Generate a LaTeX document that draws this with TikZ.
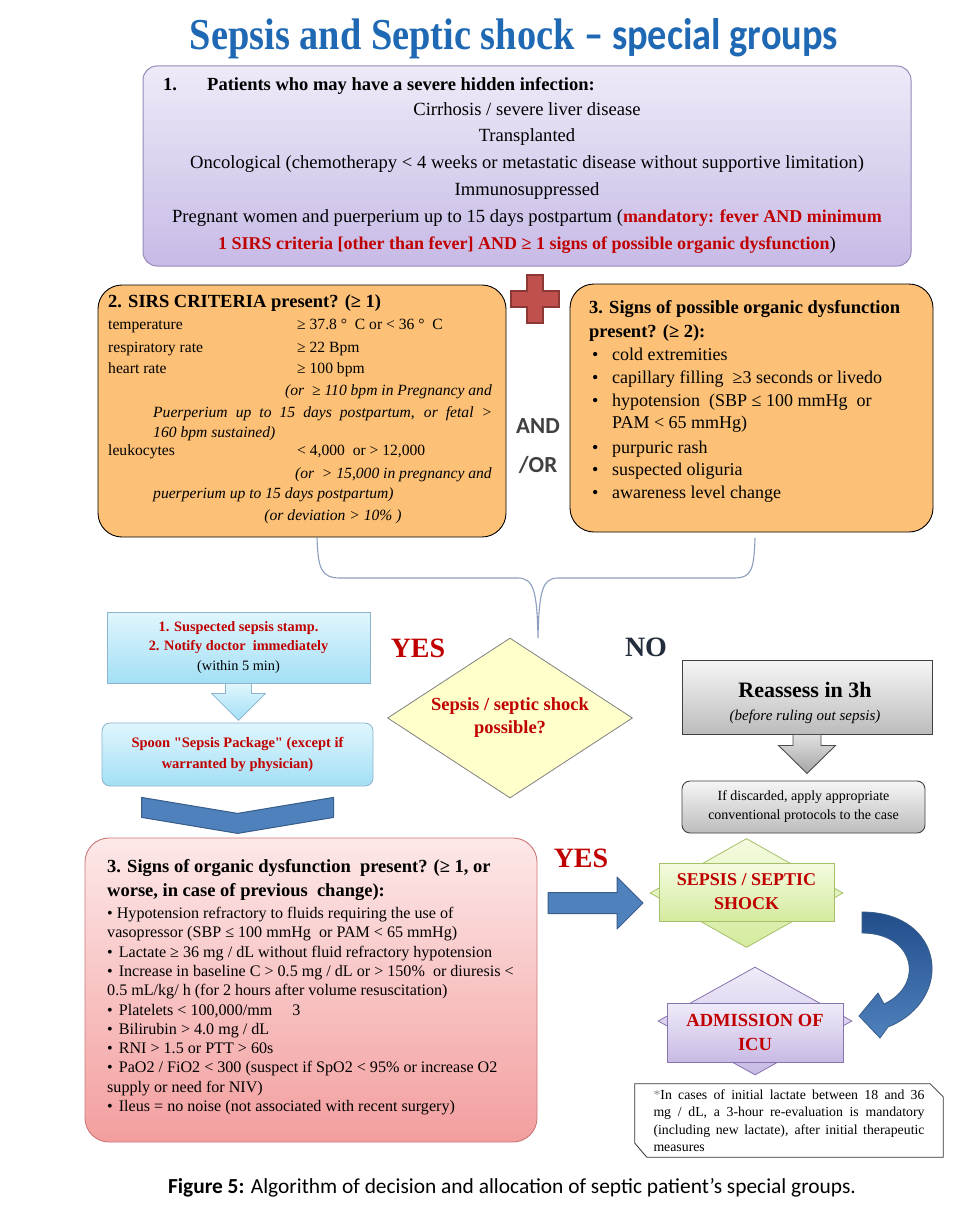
\documentclass[tikz,border=0pt]{standalone}
\usepackage{fontspec}
\setmainfont{Liberation Serif}
\newfontfamily\sansfont{Carlito}
\usepackage{graphicx}
\usepackage{xcolor}
\usetikzlibrary{calc,positioning,shapes.geometric}
\definecolor{titleblue}{RGB}{31,105,180}
\definecolor{lavtop}{RGB}{238,234,248}
\definecolor{lavbot}{RGB}{199,186,230}
\definecolor{lavline}{RGB}{150,138,185}
\definecolor{orangefill}{RGB}{252,192,118}
\definecolor{crossred}{RGB}{192,80,77}
\definecolor{crossline}{RGB}{140,56,54}
\definecolor{alertred}{RGB}{192,0,0}
\definecolor{bracegray}{RGB}{140,158,190}
\definecolor{cyantop}{RGB}{224,246,253}
\definecolor{cyanbot}{RGB}{163,223,245}
\definecolor{cyanline}{RGB}{140,180,205}
\definecolor{pinktop}{RGB}{253,232,232}
\definecolor{pinkbot}{RGB}{243,158,158}
\definecolor{pinkline}{RGB}{205,120,120}
\definecolor{arrowblue}{RGB}{79,129,189}
\definecolor{arrowline}{RGB}{56,93,138}
\definecolor{darkblue}{RGB}{34,78,138}
\definecolor{greentop}{RGB}{244,251,224}
\definecolor{greenbot}{RGB}{212,235,158}
\definecolor{greenline}{RGB}{165,192,105}
\definecolor{violettop}{RGB}{240,235,249}
\definecolor{violetbot}{RGB}{200,186,228}
\definecolor{violetline}{RGB}{135,115,175}
\definecolor{diamfill}{RGB}{255,255,204}
\definecolor{graytop}{RGB}{246,246,246}
\definecolor{graybot}{RGB}{188,188,188}
\definecolor{nogray}{RGB}{35,45,60}
\definecolor{andgray}{RGB}{64,64,64}
\newcommand{\fsz}[2]{\fontsize{#1}{#2}\selectfont}

\begin{document}
\begin{tikzpicture}[x=1pt, y=-1pt, inner sep=0pt,
    groupbox/.style={draw=lavline, rounded corners=14pt, top color=lavtop, bottom color=lavbot, line width=1pt},
    critbox/.style={draw=black, rounded corners=24pt, fill=orangefill, line width=0.9pt},
    cyanbox/.style={draw=cyanline, top color=cyantop, bottom color=cyanbot, align=center, line width=0.8pt},
    pinkbox/.style={draw=pinkline, rounded corners=24pt, top color=pinktop, bottom color=pinkbot, line width=0.9pt},
    graybox/.style={draw=black!75, top color=graytop, bottom color=graybot, line width=0.9pt, align=center},
    decision/.style={diamond, draw=black!50, fill=diamfill, align=center, line width=0.8pt},
    hexback/.style={diamond, line width=0.8pt},
    redbold/.style={text=alertred, align=center, font=\bfseries\fsz{18.5}{24}},
    rowtext/.style={font=\fsz{15.6}{20}},
    rownote/.style={font=\itshape\fsz{15.6}{20}},
    signtext/.style={font=\fsz{18}{22}},
    bigword/.style={font=\bfseries\fsz{28}{30}},
    blockarrow/.style={draw=arrowline, fill=arrowblue, line width=1pt, line join=round}]
  \fill[white] (0,0) rectangle (961,1215);
  \useasboundingbox (0,0) rectangle (961,1215);

  % title
  \node[anchor=base, text=titleblue] (title) at (514,50)
    {\resizebox{648pt}{31pt}{\bfseries Sepsis and Septic shock {\sansfont – special groups}}};

  % 1. special groups
  \node[groupbox, minimum width=768, minimum height=200] (groups) at (527,166) {};
  \node[anchor=base west, font=\bfseries\fsz{18.5}{22}] (groupsnum) at (163,90) {1.};
  \node[anchor=base west, font=\bfseries\fsz{18.5}{22}] (groupshead) at (207,90) {Patients who may have a severe hidden infection:};
  \node[anchor=north, align=center, font=\fsz{18.6}{26.8}] (groupslist) at (527,102)
    {Cirrhosis / severe liver disease\\
     Transplanted\\
     Oncological (chemotherapy < 4 weeks or metastatic disease without supportive limitation)\\
     Immunosuppressed\\
     Pregnant women and puerperium up to 15 days postpartum (\textcolor{alertred}{\bfseries\fsz{18}{26.8}mandatory: fever AND minimum}\\
     \textcolor{alertred}{\bfseries\fsz{18}{26.8}1 SIRS criteria [other than fever] AND ≥ 1 signs of possible organic dysfunction})};

  % 2. SIRS criteria
  \node[critbox, minimum width=408, minimum height=252] (sirs) at (302,411) {};
  \node[anchor=base west, font=\bfseries\fsz{18.5}{22}] (sirshead) at (108,307) {2. SIRS CRITERIA present? (≥ 1)};
  \foreach \lbl/\val/\yy [count=\i] in {temperature/{≥ 37.8 ° \ C or < 36 ° \ C}/329,
      respiratory rate/{≥ 22 Bpm}/352, heart rate/{≥ 100 bpm}/373,
      leukocytes/{< 4,000 \ or > 12,000}/455} {
    \node[rowtext, anchor=base west] (sirslabel\i) at (108,\yy) {\lbl};
    \node[rowtext, anchor=base west] (sirsvalue\i) at (297,\yy) {\val};
  }
  \node[rownote, anchor=base east] (sirsnotea) at (492,395) {(or \ ≥ 110 bpm in Pregnancy and};
  \node[rownote, anchor=base west] (sirsnoteb) at (153,417)
    {\makebox[339pt][s]{Puerperium up to 15 days postpartum, or fetal >}};
  \node[rownote, anchor=base west] (sirsnotec) at (153,437) {160 bpm sustained)};
  \node[rownote, anchor=base east] (sirsnoted) at (492,478) {(or \ > 15,000 in pregnancy and};
  \node[rownote, anchor=base west] (sirsnotee) at (153,498) {puerperium up to 15 days postpartum)};
  \node[rownote, anchor=base] (sirsnotef) at (333,520) {(or deviation > 10\% )};

  % plus sign and AND/OR
  \draw[draw=crossline, fill=crossred, line width=1.5pt] (527,275) -- (543,275) -- (543,291) -- (559,291)
    -- (559,307) -- (543,307) -- (543,323) -- (527,323) -- (527,307) -- (511,307) -- (511,291) -- (527,291) -- cycle;
  \node[anchor=base, text=andgray, font=\sansfont\bfseries\fsz{23}{26}] (andword) at (538,433) {AND};
  \node[anchor=base, text=andgray, font=\sansfont\bfseries\fsz{23}{26}] (orword) at (538,472) {/OR};

  % 3. possible organic dysfunction
  \node[critbox, minimum width=363, minimum height=248] (organ) at (751.5,408) {};
  \node[anchor=north west, align=left, font=\bfseries\fsz{18.5}{24}] (organhead) at (589,300)
    {3. Signs of possible organic dysfunction\\present? (≥ 2):};
  \foreach \sign/\yy [count=\k] in {cold extremities/360, capillary filling \ ≥3 seconds or livedo/383,
      hypotension \ (SBP ≤ 100 mmHg \ or/406, purpuric rash/453, suspected oliguria/475,
      awareness level change/498} {
    \node[signtext, anchor=base west] (signdot\k) at (592,\yy) {•};
    \node[signtext, anchor=base west] (sign\k) at (612,\yy) {\sign};
  }
  \node[signtext, anchor=base west] (signcont) at (612,428) {PAM < 65 mmHg)};

  % brace collecting both criteria
  \coordinate (braceleft) at (317,538);
  \coordinate (braceright) at (755,538);
  \coordinate (bracetip) at (538,638);
  \draw[bracegray, line width=1.1pt] (braceleft) .. controls (318,568) and (321,578) .. (340,578)
    -- (518,578) .. controls (534,578) and (537,592) .. (bracetip)
    .. controls (539,592) and (542,578) .. (558,578) -- (735,578)
    .. controls (752,578) and (754,568) .. (braceright);

  % decision
  \node[decision, aspect=1.53, minimum width=245, minimum height=160, text=alertred,
        font=\bfseries\fsz{18.5}{23}] (possible) at (510,718) {Sepsis / septic shock\\possible?};
  \node[bigword, text=alertred, anchor=base] (yesleft) at (418,657) {YES};
  \node[bigword, text=nogray, anchor=base] (noright) at (646,656) {NO};

  % YES branch
  \node[cyanbox, minimum width=263, minimum height=71, font=\fsz{14.3}{19.5}] (stamp) at (238.5,647.5)
    {\textcolor{alertred}{\bfseries 1. Suspected sepsis stamp.}\\
     \textcolor{alertred}{\bfseries 2. Notify doctor \ immediately}\\(within 5 min)};
  \node[cyanbox, rounded corners=8pt, minimum width=271, minimum height=63, text=alertred,
        font=\bfseries\fsz{14.5}{21}] (package) at (237.5,754.5)
    {Spoon \textquotedbl Sepsis Package\textquotedbl\ (except if\\warranted by physician)};
  \draw[draw=cyanline, top color=cyantop, bottom color=cyanbot, line width=0.8pt]
    ([xshift=-13pt]stamp.south) -- ++(26,0) -- ++(0,10) -- ++(14,0) -- ++(-27,27)
    -- ++(-27,-27) -- ++(14,0) -- cycle;
  \draw[blockarrow] ([xshift=-96pt, yshift=-11pt]package.south) -- ++(96,16) -- ++(96,-16)
    -- ++(0,20) -- ++(-96,16) -- ++(-96,-16) -- cycle;

  % NO branch
  \node[graybox, minimum width=250, minimum height=74] (reassess) at (807,697) {};
  \node[anchor=base, font=\bfseries\fsz{22}{24}] (reassesstitle) at (805,697) {Reassess in 3h};
  \node[anchor=base, font=\itshape\fsz{15}{18}] (reassessnote) at (805,720) {(before ruling out sepsis)};
  \draw[draw=black!70, top color=black!12, bottom color=black!35, line width=0.9pt]
    ([xshift=-14pt]reassess.south) -- ++(28,0) -- ++(0,11) -- ++(14.5,0) -- ++(-28.5,28)
    -- ++(-28.5,-28) -- ++(14.5,0) -- cycle;
  \node[graybox, rounded corners=8pt, minimum width=243, minimum height=52,
        font=\fsz{14}{19}] (discard) at (803.5,807)
    {If discarded, apply appropriate\\conventional protocols to the case};

  % 3. organic dysfunction
  \node[pinkbox, minimum width=452, minimum height=304] (dysfunction) at (311,990) {};
  \node[anchor=north west, align=left, font=\bfseries\fsz{18.5}{24}] (dysfunctionhead) at (107,859)
    {3. Signs of organic dysfunction \ present? (≥ 1, or\\worse, in case of previous \ change):};
  \node[anchor=north west, align=left, font=\fsz{16.1}{19.3}] (dysfunctionlist) at (107,907)
    {• Hypotension refractory to fluids requiring the use of\\
     vasopressor (SBP ≤ 100 mmHg \ or PAM < 65 mmHg)\\
     •\hspace{6pt}Lactate ≥ 36 mg / dL without fluid refractory hypotension\\
     •\hspace{6pt}Increase in baseline C > 0.5 mg / dL or > 150\% \ or diuresis <\\
     0.5 mL/kg/ h (for 2 hours after volume resuscitation)\\
     •\hspace{6pt}Platelets < 100,000/mm \quad 3\\
     •\hspace{6pt}Bilirubin > 4.0 mg / dL\\
     •\hspace{6pt}RNI > 1.5 or PTT > 60s\\
     •\hspace{6pt}PaO2 / FiO2 < 300 (suspect if SpO2 < 95\% or increase O2\\
     supply or need for NIV)\\
     •\hspace{6pt}Ileus = no noise (not associated with recent surgery)};

  % sepsis confirmed
  \node[bigword, text=alertred, anchor=base] (yesright) at (581,867) {YES};
  \coordinate (yesfrom) at (548,903);
  \draw[blockarrow] ([yshift=10.5pt]yesfrom) -- ++(69,0) -- ++(0,-15.5) -- ++(26,26) -- ++(-26,26)
    -- ++(0,-15.5) -- ++(-69,0) -- cycle;
  \node[hexback, draw=greenline, top color=greentop, bottom color=greenbot,
        minimum width=193, minimum height=109] (shockback) at (746.5,893) {};
  \node[draw=greenline, top color=greentop, bottom color=greenbot, line width=0.8pt,
        minimum width=175, minimum height=58, redbold, font=\bfseries\fsz{18}{24}] (shock) at (746.5,892)
    {SEPSIS / SEPTIC\\SHOCK};

  % curved arrow to ICU
  \shade[top color=darkblue, bottom color=arrowblue, draw=arrowline, line width=0.8pt]
    (862,912) .. controls (945,912) and (955,1000) .. (888,1027) -- (880,1038) -- (859,1016)
    -- (878,993) -- (884,1004) .. controls (925,985) and (915,933) .. (862,933) -- cycle;

  % ICU admission
  \node[hexback, draw=violetline, top color=violettop, bottom color=violetbot,
        minimum width=194, minimum height=108] (icuback) at (755,1021) {};
  \node[draw=violetline, top color=violettop, bottom color=violetbot, line width=0.8pt,
        minimum width=176, minimum height=59, redbold, font=\bfseries\fsz{18.5}{24}] (icu) at (755,1032.5)
    {ADMISSION OF\\ICU};

  % lactate note
  \node[text width=271pt, align=justify, inner xsep=18.5pt, minimum height=73,
        font=\fsz{13.8}{17.4}] (lactatenote) at (789,1120.5)
    {{\color{black!45}*}In cases of initial lactate between 18 and 36\linebreak
     mg / dL, a 3-hour re-evaluation is mandatory\linebreak
     (including new lactate), after initial therapeutic\linebreak measures};
  \draw[black!80, line width=0.8pt] (lactatenote.north west) -- ([xshift=-13pt]lactatenote.north east)
    -- ([yshift=-13pt]lactatenote.north east) -- (lactatenote.south east)
    -- ([xshift=12pt]lactatenote.south west) -- ([yshift=14pt]lactatenote.south west) -- cycle;

  % caption
  \node[anchor=base, font=\sansfont\fsz{21.4}{24}] (caption) at (512,1193)
    {\textbf{Figure 5:} Algorithm of decision and allocation of septic patient’s special groups.};
\end{tikzpicture}
\end{document}
